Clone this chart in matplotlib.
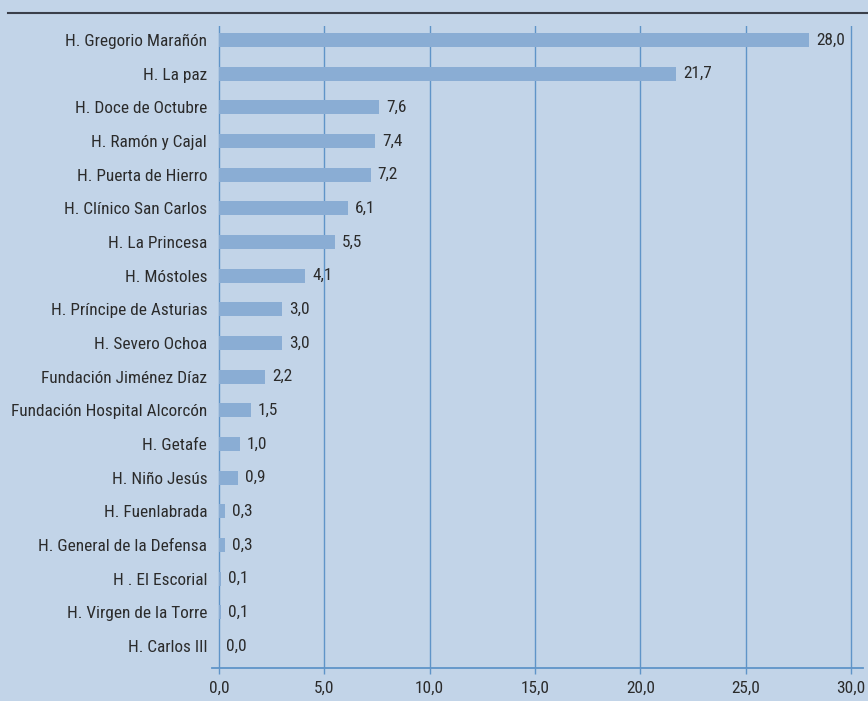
import matplotlib.pyplot as plt
from matplotlib.lines import Line2D

hospitales = [
    "H. Gregorio Marañón", "H. La paz", "H. Doce de Octubre", "H. Ramón y Cajal",
    "H. Puerta de Hierro", "H. Clínico San Carlos", "H. La Princesa", "H. Móstoles",
    "H. Príncipe de Asturias", "H. Severo Ochoa", "Fundación Jiménez Díaz",
    "Fundación Hospital Alcorcón", "H. Getafe", "H. Niño Jesús", "H. Fuenlabrada",
    "H. General de la Defensa", "H . El Escorial", "H. Virgen de la Torre", "H. Carlos III",
]
porcentajes = [28.0, 21.7, 7.6, 7.4, 7.2, 6.1, 5.5, 4.1, 3.0, 3.0, 2.2, 1.5, 1.0, 0.9,
               0.3, 0.3, 0.1, 0.1, 0.0]
xticks = [0, 5, 10, 15, 20, 25, 30]

bg = '#c2d4e8'
bar_color = '#8aadd4'
grid_color = '#5f94c8'
text_color = '#2b2b2b'

plt.rcParams['font.family'] = ['Roboto Condensed', 'Roboto', 'DejaVu Sans']
fs = 12.4

fig = plt.figure(figsize=(8.68, 7.01), dpi=100, facecolor=bg)
ax = fig.add_axes([212 / 868, 33 / 701, (863 - 212) / 868, (668 - 26) / 701])
ax.set_facecolor(bg)

y_pos = list(range(len(hospitales)))
ax.barh(y_pos, porcentajes, height=0.42, color=bar_color, zorder=2)
ax.set_xlim(-0.332, 30.57)
ax.set_ylim(18.653, -0.416)

# vertical grid lines, including the one at 0 acting as y axis
for x in xticks:
    ax.axvline(x, color=grid_color, lw=1.0, zorder=1)

for s in ['top', 'right', 'left']:
    ax.spines[s].set_visible(False)
ax.spines['bottom'].set_color(grid_color)
ax.spines['bottom'].set_linewidth(1.3)

ax.set_yticks(y_pos)
ax.set_yticklabels(hospitales, fontsize=fs, color=text_color)
ax.tick_params(axis='y', length=0, pad=3.5)

ax.set_xticks(xticks)
ax.set_xticklabels([f"{x:.1f}".replace('.', ',') for x in xticks], fontsize=fs,
                   color=text_color)
ax.tick_params(axis='x', length=4, color=grid_color, width=1.0, pad=5)

for y, v in zip(y_pos, porcentajes):
    ax.annotate(f"{v:.1f}".replace('.', ','), (v, y), xytext=(5, 0),
                textcoords='offset points', va='center', ha='left',
                fontsize=fs, color=text_color, zorder=3)

# dark rule under the (cropped) title
fig.add_artist(Line2D([8 / 868, 1], [1 - 13 / 701, 1 - 13 / 701],
                      transform=fig.transFigure, color='#3a3f4a', lw=1.5))

fig.savefig('out.png', dpi=100, facecolor=bg)
